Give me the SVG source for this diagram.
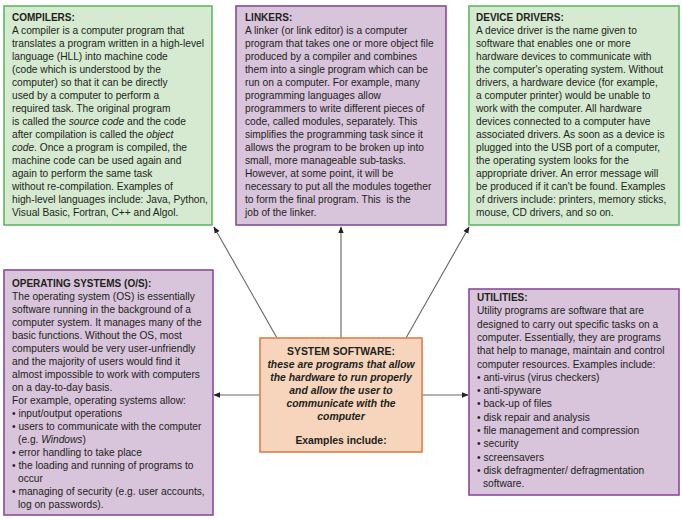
<svg xmlns="http://www.w3.org/2000/svg" width="682" height="520" viewBox="0 0 682 520">
<style>
.g{fill:#d5ead0;stroke:#5dba5f;stroke-width:1.6}
.p{fill:#d8c4db;stroke:#8a4b98;stroke-width:1.6}
.c{fill:#f6d5bc;stroke:#e27c47;stroke-width:1.6}
text{font-family:"Liberation Sans",Arial,sans-serif;font-size:10.2px;fill:#231f20}
.t{font-weight:bold;font-size:10px}
.i{font-style:italic}
.ctr{text-anchor:middle;font-weight:bold;font-size:10.4px}
.bi{font-style:italic}
.ln{stroke:#666;stroke-width:1.1;fill:none}
.ln2{stroke:#999;stroke-width:1.7;fill:none}
</style>
<defs>
<marker id="ah" viewBox="0 0 10 10" refX="9" refY="5" markerWidth="7" markerHeight="7" markerUnits="userSpaceOnUse" orient="auto">
<path d="M0,1 L10,5 L0,9 Z" fill="#222"/>
</marker>
</defs>
<g id="connectors">
<line class="ln" x1="277" y1="338" x2="214" y2="227" marker-end="url(#ah)"/>
<line class="ln2" x1="341" y1="338" x2="341" y2="227" marker-end="url(#ah)"/>
<line class="ln" x1="406" y1="338" x2="469" y2="227" marker-end="url(#ah)"/>
<line class="ln2" x1="260" y1="395" x2="214" y2="395" marker-end="url(#ah)"/>
<line class="ln2" x1="422" y1="395" x2="468" y2="395" marker-end="url(#ah)"/>
</g>
<g id="compilers">
<rect class="g" x="4" y="6" width="208" height="219"/>
<text x="12" y="21"><tspan class="t">COMPILERS:</tspan>
<tspan x="12" dy="13">A compiler is a computer program that</tspan>
<tspan x="12" dy="13">translates a program written in a high-level</tspan>
<tspan x="12" dy="13">language (HLL) into machine code</tspan>
<tspan x="12" dy="13">(code which is understood by the</tspan>
<tspan x="12" dy="13">computer) so that it can be directly</tspan>
<tspan x="12" dy="13">used by a computer to perform a</tspan>
<tspan x="12" dy="13">required task. The original program</tspan>
<tspan x="12" dy="13">is called the <tspan class="i">source code</tspan> and the code</tspan>
<tspan x="12" dy="13">after compilation is called the <tspan class="i">object</tspan></tspan>
<tspan x="12" dy="13"><tspan class="i">code</tspan>. Once a program is compiled, the</tspan>
<tspan x="12" dy="13">machine code can be used again and</tspan>
<tspan x="12" dy="13">again to perform the same task</tspan>
<tspan x="12" dy="13">without re-compilation. Examples of</tspan>
<tspan x="12" dy="13">high-level languages include: Java, Python,</tspan>
<tspan x="12" dy="13">Visual Basic, Fortran, C++ and Algol.</tspan></text>
</g>
<g id="linkers">
<rect class="p" x="236" y="6" width="210" height="219"/>
<text x="245" y="21"><tspan class="t">LINKERS:</tspan>
<tspan x="245" dy="13">A linker (or link editor) is a computer</tspan>
<tspan x="245" dy="13">program that takes one or more object file</tspan>
<tspan x="245" dy="13">produced by a compiler and combines</tspan>
<tspan x="245" dy="13">them into a single program which can be</tspan>
<tspan x="245" dy="13">run on a computer. For example, many</tspan>
<tspan x="245" dy="13">programming languages allow</tspan>
<tspan x="245" dy="13">programmers to write different pieces of</tspan>
<tspan x="245" dy="13">code, called modules, separately. This</tspan>
<tspan x="245" dy="13">simplifies the programming task since it</tspan>
<tspan x="245" dy="13">allows the program to be broken up into</tspan>
<tspan x="245" dy="13">small, more manageable sub-tasks.</tspan>
<tspan x="245" dy="13">However, at some point, it will be</tspan>
<tspan x="245" dy="13">necessary to put all the modules together</tspan>
<tspan x="245" dy="13">to form the final program. This&#160; is the</tspan>
<tspan x="245" dy="13">job of the linker.</tspan></text>
</g>
<g id="device-drivers">
<rect class="g" x="469" y="6" width="210" height="219"/>
<text x="476" y="21"><tspan class="t">DEVICE DRIVERS:</tspan>
<tspan x="476" dy="13">A device driver is the name given to</tspan>
<tspan x="476" dy="13">software that enables one or more</tspan>
<tspan x="476" dy="13">hardware devices to communicate with</tspan>
<tspan x="476" dy="13">the computer's operating system. Without</tspan>
<tspan x="476" dy="13">drivers, a hardware device (for example,</tspan>
<tspan x="476" dy="13">a computer printer) would be unable to</tspan>
<tspan x="476" dy="13">work with the computer. All hardware</tspan>
<tspan x="476" dy="13">devices connected to a computer have</tspan>
<tspan x="476" dy="13">associated drivers. As soon as a device is</tspan>
<tspan x="476" dy="13">plugged into the USB port of a computer,</tspan>
<tspan x="476" dy="13">the operating system looks for the</tspan>
<tspan x="476" dy="13">appropriate driver. An error message will</tspan>
<tspan x="476" dy="13">be produced if it can't be found. Examples</tspan>
<tspan x="476" dy="13">of drivers include: printers, memory sticks,</tspan>
<tspan x="476" dy="13">mouse, CD drivers, and so on.</tspan></text>
</g>
<g id="operating-systems">
<rect class="p" x="4" y="270" width="209" height="245"/>
<text x="12" y="287"><tspan class="t">OPERATING SYSTEMS (O/S):</tspan>
<tspan x="12" dy="13">The operating system (OS) is essentially</tspan>
<tspan x="12" dy="13">software running in the background of a</tspan>
<tspan x="12" dy="13">computer system. It manages many of the</tspan>
<tspan x="12" dy="13">basic functions. Without the OS, most</tspan>
<tspan x="12" dy="13">computers would be very user-unfriendly</tspan>
<tspan x="12" dy="13">and the majority of users would find it</tspan>
<tspan x="12" dy="13">almost impossible to work with computers</tspan>
<tspan x="12" dy="13">on a day-to-day basis.</tspan>
<tspan x="12" dy="13">For example, operating systems allow:</tspan>
<tspan x="12" dy="13">• input/output operations</tspan>
<tspan x="12" dy="13">• users to communicate with the computer</tspan>
<tspan x="18" dy="13">(e.g. <tspan class="i">Windows</tspan>)</tspan>
<tspan x="12" dy="13">• error handling to take place</tspan>
<tspan x="12" dy="13">• the loading and running of programs to</tspan>
<tspan x="18" dy="13">occur</tspan>
<tspan x="12" dy="13">• managing of security (e.g. user accounts,</tspan>
<tspan x="18" dy="13">log on passwords).</tspan></text>
</g>
<g id="utilities">
<rect class="p" x="469" y="289" width="210" height="206"/>
<text x="477" y="301"><tspan class="t">UTILITIES:</tspan>
<tspan x="477" dy="13.3">Utility programs are software that are</tspan>
<tspan x="477" dy="13.3">designed to carry out specific tasks on a</tspan>
<tspan x="477" dy="13.3">computer. Essentially, they are programs</tspan>
<tspan x="477" dy="13.3">that help to manage, maintain and control</tspan>
<tspan x="477" dy="13.3">computer resources. Examples include:</tspan>
<tspan x="477" dy="13.3">• anti-virus (virus checkers)</tspan>
<tspan x="477" dy="13.3">• anti-spyware</tspan>
<tspan x="477" dy="13.3">• back-up of files</tspan>
<tspan x="477" dy="13.3">• disk repair and analysis</tspan>
<tspan x="477" dy="13.3">• file management and compression</tspan>
<tspan x="477" dy="13.3">• security</tspan>
<tspan x="477" dy="13.3">• screensavers</tspan>
<tspan x="477" dy="13.3">• disk defragmenter/ defragmentation</tspan>
<tspan x="483" dy="13.3">software.</tspan></text>
</g>
<g id="system-software">
<rect class="c" x="260" y="338" width="162" height="114"/>
<text class="ctr" x="341" y="355">SYSTEM SOFTWARE:</text>
<text class="ctr bi" x="341" y="368">these are programs that allow</text>
<text class="ctr bi" x="341" y="381">the hardware to run properly</text>
<text class="ctr bi" x="341" y="394">and allow the user to</text>
<text class="ctr bi" x="341" y="407">communicate with the</text>
<text class="ctr bi" x="341" y="420">computer</text>
<text class="ctr" x="341" y="444">Examples include:</text>
</g>
</svg>
